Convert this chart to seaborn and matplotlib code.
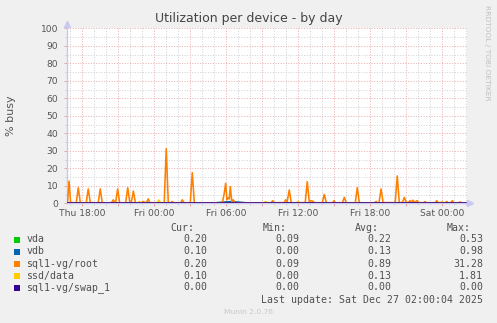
import matplotlib
matplotlib.use("Agg")
import matplotlib.pyplot as plt
import seaborn as sns
import pandas as pd
from matplotlib.patches import Rectangle
from matplotlib.ticker import MultipleLocator, FixedLocator

# ---------------- data (hours since Thu 00:00) ----------------
devices = ["vda", "vdb", "sql1-vg/root", "ssd/data", "sql1-vg/swap_1"]
colors = ["#00CC00", "#0066B3", "#FF8000", "#FFCC00", "#330099"]

vda_hours = [16.75, 18.0, 19.5, 21.0, 22.5, 24.0, 25.5, 27.0, 28.5, 30.0, 31.5, 33.0,
             34.5, 36.0, 37.5, 39.0, 40.5, 42.0, 43.5, 45.0, 46.5, 48.0, 49.5, 50.08]
vda_vals = [0.20, 0.25, 0.30, 0.20, 0.15, 0.35, 0.20, 0.30, 0.10, 0.53, 0.20, 0.15,
            0.30, 0.20, 0.25, 0.10, 0.30, 0.20, 0.15, 0.30, 0.20, 0.10, 0.25, 0.20]

vdb_hours = [16.75, 18.5, 20.0, 21.5, 23.0, 24.5, 26.0, 27.5, 29.0, 30.5, 32.0, 33.5,
             35.0, 36.5, 38.0, 39.5, 41.0, 42.5, 44.0, 45.5, 47.0, 48.5, 50.08]
vdb_vals = [0.10, 0.00, 0.20, 0.10, 0.00, 0.30, 0.10, 0.00, 0.20, 0.98, 0.10, 0.00,
            0.20, 0.10, 0.30, 0.00, 0.10, 0.20, 0.10, 0.30, 0.00, 0.10, 0.10]

ssd_hours = [16.75, 18.2, 18.4, 18.6, 22.6, 22.8, 23.0, 24.2, 24.4, 24.6, 33.0, 33.3,
             33.6, 35.8, 36.0, 36.2, 40.6, 40.8, 41.0, 47.8, 48.0, 48.2, 50.08]
ssd_vals = [0.00, 0.00, 0.90, 0.00, 0.00, 1.00, 0.00, 0.00, 1.81, 0.00, 0.00, 1.00,
            0.00, 0.00, 1.00, 0.00, 0.00, 0.80, 0.00, 0.00, 1.00, 0.00, 0.10]

swap_hours = [16.75, 50.08]
swap_vals = [0.00, 0.00]

root_hours = [16.75, 16.80, 16.92, 17.05,
              17.52, 17.69, 17.86,
              18.35, 18.52, 18.69,
              19.35, 19.52, 19.69,
              20.45, 20.61, 20.75,
              20.80, 20.97, 21.14,
              21.64, 21.81, 21.98,
              22.11, 22.28, 22.45,
              22.95, 23.11, 23.28,
              23.38, 23.52, 23.66,
              24.85, 25.02, 25.19,
              25.40, 25.52, 25.64,
              26.22, 26.36, 26.50,
              27.02, 27.19, 27.36,
              29.70, 29.86, 29.97, 30.08, 30.17, 30.27, 30.36, 30.48, 30.61, 30.75,
              33.75, 33.89, 34.03,
              34.85, 34.97, 35.10, 35.27, 35.44,
              36.60, 36.77, 36.94, 37.08, 37.25, 37.40,
              38.02, 38.19, 38.36,
              38.88, 39.00, 39.12,
              39.70, 39.86, 40.02,
              40.77, 40.94, 41.11,
              42.38, 42.50, 42.62,
              42.75, 42.92, 43.09,
              44.10, 44.27, 44.44,
              44.70, 44.86, 45.02,
              45.20, 45.33, 45.45, 45.58, 45.70, 45.92, 46.05,
              46.45, 46.58, 46.70,
              47.42, 47.56, 47.70,
              48.26, 48.39, 48.52,
              48.72, 48.86, 49.00,
              49.38, 49.50, 49.62,
              50.08]
root_vals = [0.4, 1.0, 12.7, 0.4,
             0.3, 8.9, 0.3,
             0.3, 8.2, 0.4,
             0.3, 8.2, 0.3,
             0.3, 2.0, 0.3,
             0.3, 8.2, 0.3,
             0.3, 8.9, 0.8,
             0.5, 7.0, 0.3,
             0.3, 1.0, 0.4,
             0.5, 2.5, 0.3,
             0.3, 31.28, 0.4,
             0.3, 1.0, 0.3,
             0.3, 2.0, 0.3,
             0.3, 17.5, 0.3,
             0.3, 6.0, 11.4, 2.0, 3.0, 2.5, 9.5, 1.0, 2.0, 0.3,
             0.3, 1.5, 0.3,
             0.4, 2.0, 1.0, 7.6, 0.3,
             0.4, 12.4, 0.8, 1.5, 1.2, 0.3,
             0.3, 5.1, 0.3,
             0.3, 1.5, 0.3,
             0.3, 3.4, 0.3,
             0.3, 8.9, 0.3,
             0.3, 1.0, 0.3,
             0.3, 8.2, 0.4,
             0.4, 15.6, 0.5,
             0.4, 3.4, 0.5,
             0.5, 1.5, 0.6, 1.8, 0.6, 1.5, 0.4,
             0.3, 1.0, 0.3,
             0.3, 1.5, 0.3,
             0.3, 1.0, 0.3,
             0.3, 1.5, 0.3,
             0.3, 0.8, 0.3,
             0.2]

tick_hours = [18, 24, 30, 36, 42, 48]
tick_labels = ["Thu 18:00", "Fri 00:00", "Fri 06:00", "Fri 12:00", "Fri 18:00", "Sat 00:00"]
y_ticks = list(range(0, 101, 10))

cur_vals = ["0.20", "0.10", "0.20", "0.10", "0.00"]
min_vals = ["0.09", "0.00", "0.09", "0.00", "0.00"]
avg_vals = ["0.22", "0.13", "0.89", "0.13", "0.00"]
max_vals = ["0.53", "0.98", "31.28", "1.81", "0.00"]

# ---------------- figure ----------------
W, H = 497, 323
fig = plt.figure(figsize=(W / 100, H / 100), dpi=100, facecolor="#F0F0F0")
x0, x1 = 67, 467
ytop, ybot = 28.3, 203.3
ax = fig.add_axes([x0 / W, (H - ybot) / H, (x1 - x0) / W, (ybot - ytop) / H])
ax.set_facecolor("white")

frames = []
for name, hrs, vals in zip(devices,
                           [vda_hours, vdb_hours, root_hours, ssd_hours, swap_hours],
                           [vda_vals, vdb_vals, root_vals, ssd_vals, swap_vals]):
    frames.append(pd.DataFrame({"hour": hrs, "busy": vals, "device": name}))
df = pd.concat(frames, ignore_index=True)

sns.lineplot(data=df, x="hour", y="busy", hue="device", hue_order=devices,
             palette=dict(zip(devices, colors)), estimator=None, sort=False,
             linewidth=1.15, legend=False, ax=ax, zorder=3)

xmin, xmax = 16.75, 50.0833
ax.set_xlim(xmin, xmax)
ax.set_ylim(0, 100)

# grid
major_x = [h for h in range(18, 51, 3)]
ax.xaxis.set_major_locator(FixedLocator(major_x))
ax.set_xticklabels([tick_labels[tick_hours.index(h)] if h in tick_hours else "" for h in major_x])
ax.xaxis.set_minor_locator(MultipleLocator(1))
ax.set_yticks(y_ticks)
ax.yaxis.set_minor_locator(MultipleLocator(5))
ax.grid(which="minor", color="#D2D2D2", linestyle=(0, (1, 1.6)), linewidth=0.72, zorder=1)
ax.grid(which="major", color="#EDB0B0", linestyle=(0, (1, 1.6)), linewidth=0.72, zorder=1.5)
ax.set_axisbelow(True)

ax.tick_params(axis="both", which="major", length=2.2, width=0.7, color="#E8A0A0",
               labelsize=6.6, labelcolor="#555555")
ax.tick_params(axis="x", which="major", pad=2.2)
ax.tick_params(axis="y", which="major", pad=4.0)
ax.tick_params(which="minor", length=1.5, width=0.6, color="#C8C8C8")
ax.set_xlabel("")
ax.set_ylabel("")

for s in ["top", "right"]:
    ax.spines[s].set_visible(False)
ax.spines["left"].set_color("#C8C8F4")
ax.spines["left"].set_linewidth(1.0)
ax.spines["bottom"].set_color("#C8C8F4")
ax.spines["bottom"].set_linewidth(1.0)

# axis arrows
ax.plot([xmin], [102.3], marker="^", markersize=4.5, color="#C8C8F4", clip_on=False, zorder=4)
ax.plot([xmax + 0.28], [0], marker=">", markersize=4.5, color="#C8C8F4", clip_on=False, zorder=4)

# texts
def ft(x, y, s, **kw):
    fig.text(x / W, 1 - y / H, s, **kw)

ft(248.5, 18.5, "Utilization per device - by day", ha="center", va="center",
   fontsize=9.0, color="#444444", family="DejaVu Sans")
ft(11, 116, "% busy", ha="center", va="center", rotation=90, fontsize=8.0,
   color="#555555", family="DejaVu Sans")
ft(487, 53, "RRDTOOL / TOBI OETIKER", ha="center", va="center", rotation=270,
   fontsize=5.4, color="#C0C0C0", family="DejaVu Sans")
ft(248, 312, "Munin 2.0.76", ha="center", va="center", fontsize=5.4,
   color="#C8C8C8", family="DejaVu Sans")

mono = dict(family="DejaVu Sans Mono", fontsize=7.1, color="#505050", va="center")
ft(194.5, 227.7, "Cur:", ha="right", **mono)
ft(287.0, 227.7, "Min:", ha="right", **mono)
ft(378.5, 227.7, "Avg:", ha="right", **mono)
ft(470.5, 227.7, "Max:", ha="right", **mono)

row_y = [239.5, 251.5, 263.7, 275.7, 287.5]
for i, name in enumerate(devices):
    y = row_y[i]
    fig.patches.append(Rectangle((14 / W, 1 - (y + 3) / H), 6 / W, 6 / H,
                                 transform=fig.transFigure, facecolor=colors[i],
                                 edgecolor="none"))
    ft(26.5, y, name, ha="left", **mono)
    ft(207.5, y, cur_vals[i], ha="right", **mono)
    ft(299.2, y, min_vals[i], ha="right", **mono)
    ft(391.0, y, avg_vals[i], ha="right", **mono)
    ft(483.0, y, max_vals[i], ha="right", **mono)

ft(483.0, 299.7, "Last update: Sat Dec 27 02:00:04 2025", ha="right", **mono)

fig.savefig("out.png", dpi=100, facecolor=fig.get_facecolor())
